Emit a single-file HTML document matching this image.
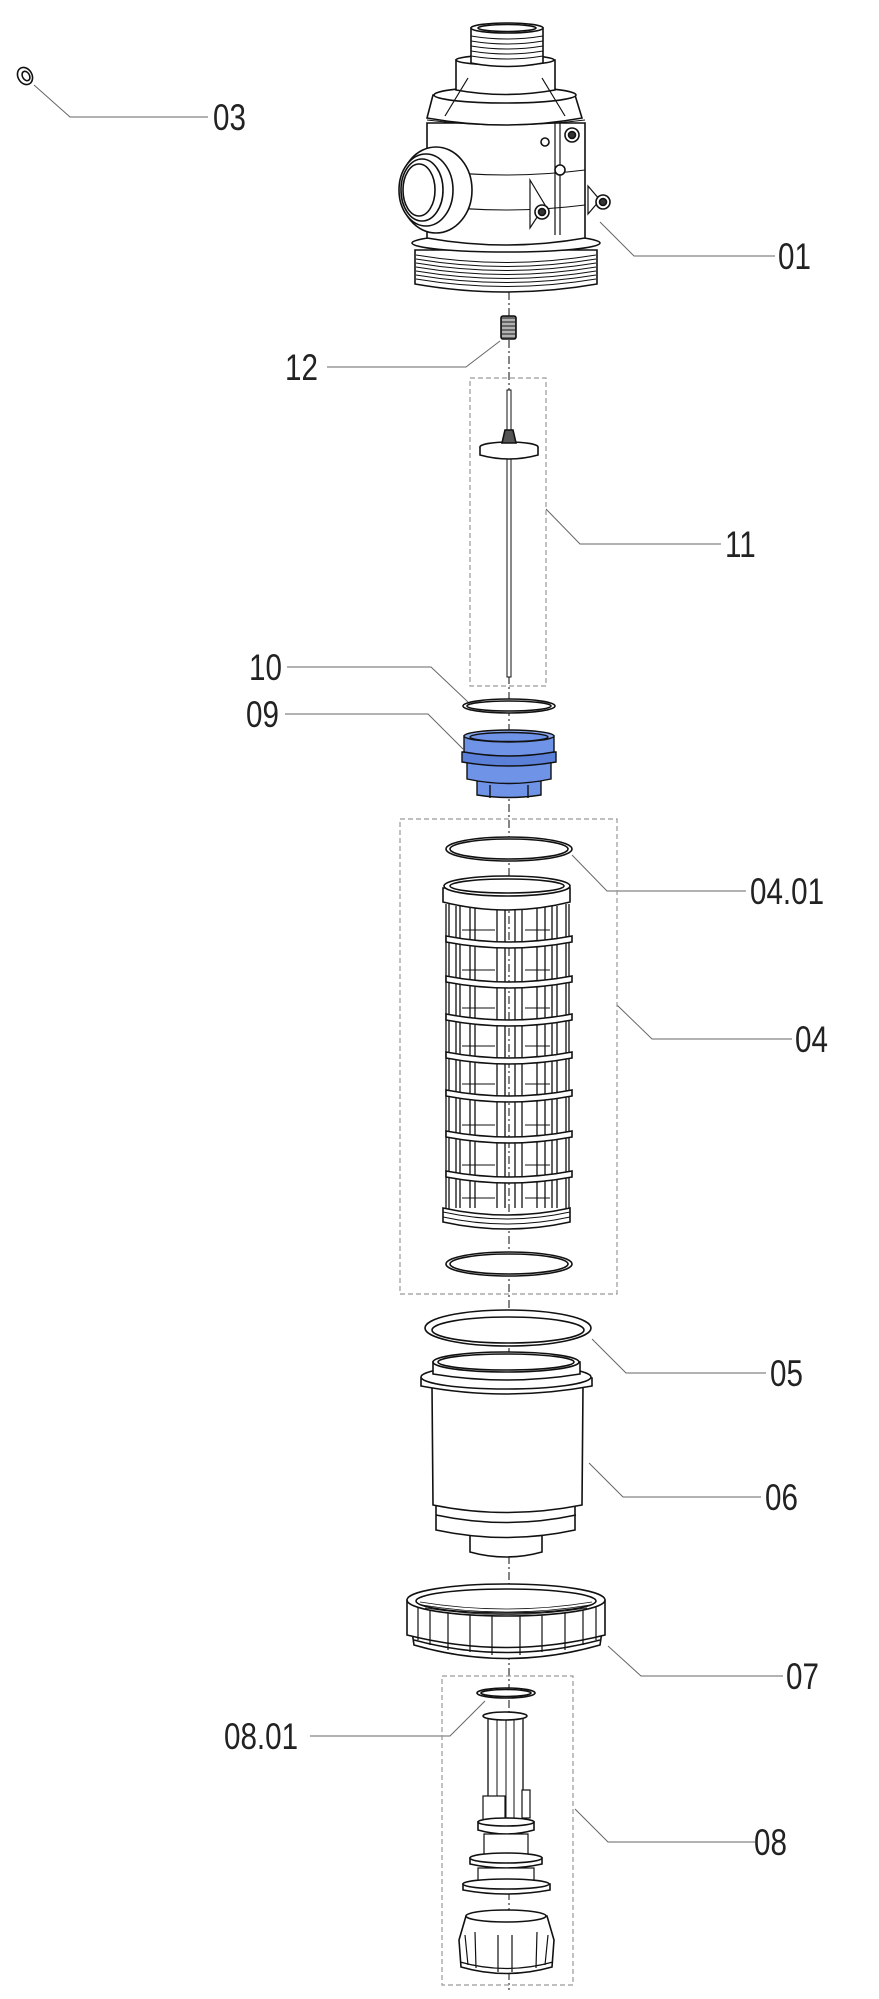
<!DOCTYPE html>
<html><head><meta charset="utf-8"><style>
html,body{margin:0;padding:0;background:#fff}
svg{display:block}
.lbl{font-family:"Liberation Sans",sans-serif;font-size:37px;fill:#222}
</style></head><body>
<svg width="879" height="1999" viewBox="0 0 879 1999" xmlns="http://www.w3.org/2000/svg">
<defs>
<g id="ln"></g>
</defs>
<!-- axis -->
<line x1="509" y1="292" x2="509" y2="1990" stroke="#333" stroke-width="1.2" stroke-dasharray="8,3,2,3"/>
<!-- leaders -->
<g fill="none" stroke="#666" stroke-width="1">
<polyline points="34,85 70,117 208,117"/>
<polyline points="600,222 634,256 775,256"/>
<polyline points="500,341 466,367 327,367"/>
<polyline points="546,509 580,544 721,544"/>
<polyline points="287,667 431,667 468,702"/>
<polyline points="285,714 428,714 463,749"/>
<polyline points="572,855 607,891 746,891"/>
<polyline points="617,1005 652,1039 792,1039"/>
<polyline points="592,1339 626,1373 766,1373"/>
<polyline points="589,1463 623,1497 761,1497"/>
<polyline points="608,1646 641,1676 783,1676"/>
<polyline points="485,1701 450,1736 310,1736"/>
<polyline points="575,1809 608,1842 755,1842"/>
</g>
<!-- dashed boxes -->
<g fill="none" stroke="#999" stroke-width="1.2" stroke-dasharray="5,3">
<rect x="470" y="378" width="76" height="308"/>
<rect x="400" y="819" width="217" height="475"/>
<rect x="442" y="1676" width="131" height="309"/>
</g>
<!-- labels -->
<g class="lbl">
<text transform="translate(213,130) scale(0.8,1)">03</text>
<text transform="translate(778,269) scale(0.8,1)">01</text>
<text transform="translate(285,380) scale(0.8,1)">12</text>
<text transform="translate(725,557) scale(0.8,1)">11</text>
<text transform="translate(249,680) scale(0.8,1)">10</text>
<text transform="translate(246,727) scale(0.8,1)">09</text>
<text transform="translate(750,904) scale(0.8,1)">04.01</text>
<text transform="translate(795,1052) scale(0.8,1)">04</text>
<text transform="translate(770,1386) scale(0.8,1)">05</text>
<text transform="translate(765,1510) scale(0.8,1)">06</text>
<text transform="translate(786,1689) scale(0.8,1)">07</text>
<text transform="translate(224,1749) scale(0.8,1)">08.01</text>
<text transform="translate(754,1855) scale(0.8,1)">08</text>
</g>
<g fill="#fff" stroke="#111" stroke-width="1.6">
<!-- 03 washer -->
<ellipse cx="25" cy="76" rx="7" ry="9" transform="rotate(-30 25 76)"/>
<ellipse cx="26" cy="76" rx="3.5" ry="5" transform="rotate(-30 26 76)"/>
<!-- 01 body -->
<path d="M415,250 L415,284 Q506,300 597,284 L597,250 Z"/>
<g stroke-width="0.9"><path d="M416,255 Q506,270 596,255 M416,259 Q506,274 596,259 M416,263 Q506,278 596,263 M416,267 Q506,282 596,267 M416,271 Q506,286 596,271 M416,275 Q506,290 596,275 M416,279 Q506,294 596,279"/></g>
<ellipse cx="506" cy="243" rx="94" ry="9"/>
<path d="M427,123 L427,238 Q506,252 585,238 L585,123 Z"/>
<path d="M433,95 L427,118 Q506,132 582,118 L575,95 Z"/>
<ellipse cx="505" cy="95" rx="71" ry="8"/>
<path d="M456,60 L456,90 Q505,99 555,90 L555,60 Z"/>
<ellipse cx="505" cy="60" rx="49" ry="5"/>
<path d="M471,28 L471,63 Q507,70 543,63 L543,28 Z"/>
<g stroke-width="0.9"><path d="M471,36 Q507,42 543,36 M471,41 Q507,47 543,41 M471,46 Q507,52 543,46 M471,51 Q507,57 543,51 M471,56 Q507,62 543,56"/></g>
<ellipse cx="507" cy="28" rx="36" ry="5"/>
<ellipse cx="507" cy="28" rx="29" ry="3.5"/>
<path d="M427,170 Q506,180 585,170 M427,205 Q506,215 585,205 M427,120 Q506,130 585,120" fill="none" stroke-width="1"/>
<path d="M445,116 L468,78 M565,116 L542,78 M555,123 L555,235 M560,123 L560,235" fill="none" stroke-width="1.2"/>
<!-- side port -->
<ellipse cx="436" cy="190" rx="36" ry="43"/>
<ellipse cx="426" cy="190" rx="27" ry="36"/>
<ellipse cx="422" cy="190" rx="21" ry="31"/>
<ellipse cx="419" cy="190" rx="16" ry="26"/>
<!-- nozzles -->
<path d="M530,180 L545,205 L530,228 Z" stroke-width="1.2"/>
<path d="M588,186 L600,200 L588,214 Z" stroke-width="1.2"/>
<circle cx="542" cy="212" r="7"/><circle cx="542" cy="212" r="3.5" fill="#333"/>
<circle cx="603" cy="202" r="7"/><circle cx="603" cy="202" r="3.5" fill="#333"/>
<circle cx="572" cy="135" r="7"/><circle cx="572" cy="135" r="3.5" fill="#333"/>
<circle cx="560" cy="170" r="5"/>
<circle cx="545" cy="142" r="4"/>
<!-- 12 spring -->
<rect x="501" y="316" width="15" height="23" rx="2" fill="#666"/>
<g stroke="#fff" stroke-width="1"><path d="M502,320 H515 M502,324 H515 M502,328 H515 M502,332 H515 M502,336 H515"/></g>
<!-- 11 rod -->
<rect x="507" y="390" width="4" height="287" stroke-width="1"/>
<ellipse cx="509" cy="447" rx="29" ry="5"/>
<path d="M480,447 L480,455 Q509,463 538,455 L538,447" />
<path d="M505,430 L513,430 L516,443 L502,443 Z" fill="#555"/>
<!-- 10 ring -->
<ellipse cx="509" cy="706" rx="46" ry="7"/>
<ellipse cx="509" cy="706" rx="42" ry="5"/>
</g>
<!-- 09 blue -->
<g stroke="#111" stroke-width="1.4">
<path d="M477,781 L477,795 Q509,800 541,795 L541,781 Z" fill="#6f93e6"/>
<path d="M467,758 L467,779 Q509,788 551,779 L551,758 Z" fill="#6f93e6"/>
<path d="M462,752 L462,762 Q509,770 556,762 L556,752 Z" fill="#5b80da"/>
<path d="M464,736 L464,752 Q509,760 554,752 L554,736 Z" fill="#6f93e6"/>
<ellipse cx="509" cy="736" rx="45" ry="6" fill="#8aa8ef"/>
<ellipse cx="509" cy="737" rx="39" ry="4.5" fill="#6f93e6"/>
<path d="M490,785 V798 M528,785 V798" fill="none"/>
</g>
<g fill="#fff" stroke="#111" stroke-width="1.6">
<!-- 04.01 ring -->
<ellipse cx="509" cy="849" rx="63" ry="12"/>
<ellipse cx="509" cy="849" rx="59" ry="10"/>
<!-- cage -->
<g stroke-width="1.3">
<path d="M446,904 L446,1210 M449,904 L449,1210 M456,906 V1208 M460,906 V1208 M470,907 V1208 M475,907 V1208 M497,908 V1208 M505,908 V1208 M515,908 V1208 M522,908 V1208 M537,907 V1208 M545,907 V1208 M552,906 V1208 M557,906 V1208 M566,904 V1210 M569,904 V1210" fill="none"/>
<path d="M462,930 H495 M525,930 H550 M462,970 H495 M525,970 H550 M462,1008 H495 M525,1008 H550 M462,1046 H495 M525,1046 H550 M462,1084 H495 M525,1084 H550 M462,1125 H495 M525,1125 H550 M462,1165 H495 M525,1165 H550 M462,1198 H495 M525,1198 H550" fill="none" stroke-width="1"/>
</g>
<g>
<path d="M446,936 Q509,948 572,936 L572,942 Q509,954 446,942 Z"/>
<path d="M446,976 Q509,988 572,976 L572,982 Q509,994 446,982 Z"/>
<path d="M446,1014 Q509,1026 572,1014 L572,1020 Q509,1032 446,1020 Z"/>
<path d="M446,1052 Q509,1064 572,1052 L572,1058 Q509,1070 446,1058 Z"/>
<path d="M446,1090 Q509,1102 572,1090 L572,1096 Q509,1108 446,1096 Z"/>
<path d="M446,1131 Q509,1143 572,1131 L572,1137 Q509,1149 446,1137 Z"/>
<path d="M446,1171 Q509,1183 572,1171 L572,1177 Q509,1189 446,1177 Z"/>
</g>
<path d="M443,888 L443,902 Q507,918 570,902 L570,888 Z"/>
<ellipse cx="507" cy="886" rx="63" ry="10"/>
<ellipse cx="507" cy="886" rx="57" ry="7"/>
<path d="M443,1208 L443,1222 Q507,1236 570,1222 L570,1208 Q507,1222 443,1208 Z"/>
<path d="M443,1212 Q507,1226 570,1212 M443,1217 Q507,1231 570,1217" fill="none" stroke-width="1"/>
<!-- bottom ring -->
<ellipse cx="509" cy="1264" rx="63" ry="12"/>
<ellipse cx="509" cy="1264" rx="59" ry="10"/>
<!-- 05 ring -->
<ellipse cx="508" cy="1328" rx="83" ry="18"/>
<ellipse cx="508" cy="1330" rx="76" ry="13"/>
<!-- 06 bowl -->
<path d="M470,1532 L470,1552 Q506,1562 542,1552 L542,1532 Z"/>
<path d="M436,1505 L436,1530 Q506,1545 575,1530 L575,1505 Z"/>
<path d="M432,1386 L433,1505 Q506,1520 582,1505 L583,1386 Z"/>
<path d="M436,1515 Q506,1530 576,1515" fill="none"/>
<path d="M421,1378 L421,1386 Q506,1402 592,1386 L592,1378 Z"/>
<ellipse cx="506" cy="1377" rx="85" ry="12"/>
<path d="M433,1362 L433,1374 Q506,1386 580,1374 L580,1362 Z"/>
<ellipse cx="506" cy="1362" rx="73" ry="10"/>
<ellipse cx="506" cy="1362" rx="68" ry="8"/>
<!-- 07 nut -->
<path d="M410,1618 L414,1645 Q506,1672 600,1645 L604,1618 Z"/>
<path d="M414,1640 Q506,1665 600,1640" fill="none"/>
<path d="M407,1600 L407,1635 Q506,1660 605,1635 L605,1600 Z"/>
<g stroke-width="1.2" fill="none"><path d="M418,1605 V1640 M430,1610 V1645 M448,1612 V1650 M470,1614 V1652 M492,1615 V1655 M520,1615 V1655 M542,1614 V1652 M565,1612 V1650 M583,1610 V1645 M596,1605 V1640"/></g>
<ellipse cx="506" cy="1600" rx="99" ry="16"/>
<ellipse cx="506" cy="1601" rx="90" ry="12"/>
<g stroke-width="0.8" fill="none"><path d="M420,1602 Q506,1616 592,1602 M422,1605 Q506,1619 590,1605 M425,1608 Q506,1621 587,1608"/></g>
<!-- 08.01 ring -->
<ellipse cx="506" cy="1693" rx="29" ry="5"/>
<ellipse cx="506" cy="1693" rx="25" ry="3.5"/>
<!-- 08 stem -->
<rect x="488" y="1716" width="35" height="106" stroke-width="1.3"/>
<path d="M497,1718 V1820 M506,1718 V1820 M514,1718 V1820" fill="none" stroke-width="1"/>
<ellipse cx="505" cy="1716" rx="22" ry="4"/>
<rect x="483" y="1796" width="22" height="26" stroke-width="1.2"/>
<rect x="522" y="1790" width="8" height="28" stroke-width="1.2"/>
<path d="M478,1822 L478,1830 Q506,1838 534,1830 L534,1822 Z"/>
<ellipse cx="506" cy="1822" rx="28" ry="4"/>
<rect x="484" y="1834" width="44" height="22" stroke-width="1.2"/>
<path d="M470,1858 L470,1864 Q506,1872 542,1864 L542,1858 Z"/>
<ellipse cx="506" cy="1858" rx="36" ry="5"/>
<rect x="478" y="1868" width="56" height="22" stroke-width="1.2"/>
<path d="M463,1884 L463,1890 Q506,1898 550,1890 L550,1884 Z"/>
<ellipse cx="506" cy="1884" rx="43" ry="5"/>
<!-- cap -->
<path d="M466,1916 L459,1940 L461,1967 Q506,1980 552,1967 L554,1940 L547,1916 Z"/>
<ellipse cx="506" cy="1916" rx="40" ry="6"/>
<g stroke-width="1.2" fill="none"><path d="M465,1935 L468,1965 M475,1932 L476,1968 M498,1935 V1972 M512,1935 V1972 M537,1932 L536,1968 M548,1935 L545,1965 M460,1962 Q506,1975 553,1962"/></g>
</g>
</svg>
</body></html>
